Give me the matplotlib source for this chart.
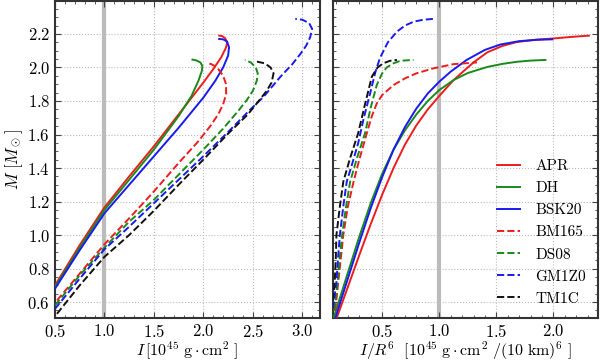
import matplotlib
matplotlib.use("Agg")
import matplotlib.pyplot as plt
from matplotlib.ticker import MultipleLocator

plt.rcParams['font.family'] = 'serif'
plt.rcParams['font.serif'] = ['cmr10', 'DejaVu Serif']
plt.rcParams['mathtext.fontset'] = 'cm'
plt.rcParams['axes.formatter.use_mathtext'] = True

# ---- data: left panel (M vs I) ----
apr_I = [0.5, 0.75, 1.0, 1.25, 1.5, 1.75, 2.0, 2.1, 2.18, 2.23, 2.24, 2.22, 2.19, 2.16]
apr_M = [0.70, 0.94, 1.165, 1.35, 1.53, 1.72, 1.91, 1.99, 2.06, 2.12, 2.15, 2.175, 2.187, 2.19]
dh_I = [0.5, 0.75, 1.0, 1.25, 1.5, 1.75, 1.88, 1.95, 1.985, 1.99, 1.97, 1.93, 1.89]
dh_M = [0.69, 0.925, 1.15, 1.33, 1.51, 1.71, 1.83, 1.92, 1.98, 2.01, 2.03, 2.042, 2.047]
bsk_I = [0.5, 0.75, 1.0, 1.25, 1.5, 1.75, 2.0, 2.12, 2.2, 2.25, 2.26, 2.24, 2.2, 2.16]
bsk_M = [0.68, 0.91, 1.13, 1.30, 1.47, 1.64, 1.82, 1.92, 2.0, 2.07, 2.12, 2.155, 2.168, 2.17]
bm_I = [0.52, 0.75, 1.0, 1.25, 1.5, 1.75, 1.95, 2.07, 2.15, 2.2, 2.23, 2.23, 2.2, 2.14, 2.08, 2.04]
bm_M = [0.61, 0.77, 0.945, 1.10, 1.26, 1.43, 1.56, 1.65, 1.72, 1.78, 1.84, 1.90, 1.95, 2.0, 2.02, 2.025]
ds_I = [0.5, 0.75, 1.0, 1.25, 1.5, 1.75, 2.0, 2.2, 2.36, 2.44, 2.5, 2.54, 2.55, 2.53, 2.48, 2.42]
ds_M = [0.58, 0.76, 0.925, 1.08, 1.21, 1.36, 1.51, 1.635, 1.746, 1.806, 1.86, 1.92, 1.965, 2.0, 2.03, 2.045]
gm_I = [0.5, 0.75, 1.0, 1.25, 1.5, 1.75, 2.0, 2.25, 2.47, 2.61, 2.78, 2.9, 2.98, 3.04, 3.08, 3.10, 3.07, 3.0, 2.93]
gm_M = [0.56, 0.74, 0.915, 1.05, 1.19, 1.33, 1.47, 1.615, 1.746, 1.826, 1.945, 2.02, 2.08, 2.13, 2.18, 2.23, 2.265, 2.285, 2.29]
tm_I = [0.52, 0.75, 1.0, 1.25, 1.5, 1.75, 2.0, 2.25, 2.45, 2.56, 2.64, 2.69, 2.71, 2.68, 2.62, 2.54]
tm_M = [0.53, 0.70, 0.87, 1.00, 1.145, 1.30, 1.45, 1.605, 1.72, 1.80, 1.86, 1.91, 1.965, 2.0, 2.025, 2.035]

# ---- data: right panel (M vs I/R^6) ----
apr_X = [0.10, 0.2, 0.3, 0.4, 0.5, 0.6, 0.7, 0.8, 0.9, 1.0, 1.126, 1.2, 1.3, 1.42, 1.55, 1.68, 1.85, 2.0, 2.15, 2.31]
apr_MX = [0.50, 0.69, 0.88, 1.065, 1.24, 1.40, 1.54, 1.655, 1.75, 1.83, 1.925, 1.97, 2.03, 2.09, 2.128, 2.152, 2.166, 2.173, 2.182, 2.19]
dh_X = [0.073, 0.2, 0.3, 0.4, 0.5, 0.6, 0.7, 0.8, 0.9, 1.0, 1.126, 1.25, 1.42, 1.55, 1.68, 1.8, 1.93]
dh_MX = [0.50, 0.775, 0.99, 1.19, 1.365, 1.51, 1.625, 1.72, 1.80, 1.865, 1.925, 1.967, 2.003, 2.021, 2.034, 2.041, 2.045]
bsk_X = [0.088, 0.2, 0.3, 0.4, 0.5, 0.6, 0.7, 0.8, 0.9, 1.0, 1.1, 1.24, 1.4, 1.535, 1.7, 1.85, 1.99]
bsk_MX = [0.50, 0.74, 0.955, 1.16, 1.345, 1.51, 1.645, 1.755, 1.845, 1.915, 1.975, 2.045, 2.105, 2.137, 2.157, 2.165, 2.168]
bm_X = [0.09, 0.116, 0.14, 0.16, 0.2, 0.25, 0.3, 0.366, 0.41, 0.453, 0.5, 0.6, 0.7, 0.8, 0.95, 1.126, 1.33]
bm_MX = [0.55, 0.72, 0.87, 1.0, 1.17, 1.318, 1.45, 1.607, 1.71, 1.785, 1.835, 1.895, 1.935, 1.965, 1.995, 2.02, 2.03]
ds_X = [0.08, 0.11, 0.13, 0.15, 0.18, 0.22, 0.28, 0.35, 0.4, 0.453, 0.5, 0.54, 0.6, 0.66, 0.775]
ds_MX = [0.55, 0.72, 0.87, 1.0, 1.15, 1.318, 1.46, 1.607, 1.76, 1.895, 1.965, 2.0, 2.025, 2.04, 2.045]
gm_X = [0.07, 0.10, 0.115, 0.13, 0.16, 0.19, 0.24, 0.29, 0.34, 0.395, 0.44, 0.48, 0.55, 0.63, 0.7, 0.775, 0.86, 0.95]
gm_MX = [0.56, 0.72, 0.87, 1.0, 1.17, 1.318, 1.43, 1.547, 1.70, 1.846, 1.97, 2.055, 2.15, 2.214, 2.25, 2.273, 2.285, 2.29]
tm_X = [0.06, 0.085, 0.095, 0.10, 0.13, 0.16, 0.22, 0.29, 0.35, 0.41, 0.46, 0.51, 0.57, 0.63]
tm_MX = [0.55, 0.72, 0.87, 1.0, 1.17, 1.318, 1.46, 1.607, 1.78, 1.945, 2.0, 2.025, 2.04, 2.045]

names = ['APR', 'DH', 'BSK20', 'BM165', 'DS08', 'GM1Z0', 'TM1C']
colors = ['#ee1c1c', '#1a8a1a', '#1a1aee', '#ee1c1c', '#1a8a1a', '#1a1aee', '#111111']
styles = ['-', '-', '-', '--', '--', '--', '--']
left = [(apr_I, apr_M), (dh_I, dh_M), (bsk_I, bsk_M), (bm_I, bm_M),
        (ds_I, ds_M), (gm_I, gm_M), (tm_I, tm_M)]
right = [(apr_X, apr_MX), (dh_X, dh_MX), (bsk_X, bsk_MX), (bm_X, bm_MX),
         (ds_X, ds_MX), (gm_X, gm_MX), (tm_X, tm_MX)]

fig = plt.figure(figsize=(6.0, 3.64), dpi=100)
ax1 = fig.add_axes([0.0917, 0.1264, 0.4417, 0.871])
ax2 = fig.add_axes([0.555, 0.1264, 0.4417, 0.871])

for ax, data in ((ax1, left), (ax2, right)):
    ax.axvline(1.0, color='#bbbbbb', lw=3, zorder=1)
    for (x, y), n, c, s in zip(data, names, colors, styles):
        ax.plot(x, y, color=c, ls=s, lw=1.4, label=n, zorder=3,
                solid_joinstyle='round', dash_joinstyle='round')
    ax.set_ylim(0.505, 2.397)
    ax.yaxis.set_major_locator(MultipleLocator(0.2))
    ax.yaxis.set_minor_locator(MultipleLocator(0.05))
    ax.xaxis.set_major_locator(MultipleLocator(0.5))
    ax.xaxis.set_minor_locator(MultipleLocator(0.1))
    ax.grid(True, which='major', ls=':', color='#bbbbbb', lw=0.8)
    ax.tick_params(which='both', direction='in', top=True, right=True,
                   colors='#444444', labelcolor='black', labelsize=12)
    ax.tick_params(which='major', length=4, width=0.8)
    ax.tick_params(which='minor', length=2, width=0.6)
    for sp in ax.spines.values():
        sp.set_linewidth(1.5)
        sp.set_color('#333333')

ax1.set_xlim(0.5, 3.18)
ax2.set_xlim(0.07, 2.39)
ax2.tick_params(labelleft=False)

ax1.set_ylabel(r'$M\ [M_\odot]$', fontsize=12, labelpad=2)
ax1.set_xlabel(r'$I\,[10^{45}\ \mathrm{g\cdot cm^2}\ ]$', fontsize=11.5, labelpad=0)
ax2.set_xlabel(r'$I/R^6\ \ [10^{45}\ \mathrm{g\cdot cm^2}\ /(10\ \mathrm{km})^6\ ]$',
               fontsize=11.5, labelpad=0)

leg = ax2.legend(loc='lower right', frameon=False, fontsize=11,
                 handlelength=1.5, handletextpad=1.0, labelspacing=0.55,
                 borderaxespad=0.4)

fig.savefig('out.png', dpi=100)
